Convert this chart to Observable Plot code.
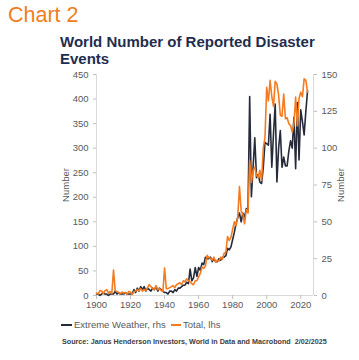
<!DOCTYPE html>
<html>
<head>
<meta charset="utf-8">
<script src="https://cdn.jsdelivr.net/npm/d3@7"></script>
<script src="https://cdn.jsdelivr.net/npm/@observablehq/plot@0.6"></script>
<style>
  html, body { margin: 0; padding: 0; background: #fff; }
  body { width: 359px; height: 360px; position: relative; overflow: hidden; font-family: "Liberation Sans", Arial, sans-serif; }
  .abs { position: absolute; white-space: nowrap; }
  #chartno { left: 8px; top: 4.5px; font-size: 21.5px; line-height: 1; color: #f07d22; }
  #title { left: 60px; top: 32.7px; font-size: 15px; line-height: 17.6px; font-weight: bold; color: #1f2d4e; }
  #plot { left: 0; top: 70px; }
  .lg-sw { position: absolute; height: 2px; top: 324px; }
  .lg-tx { position: absolute; top: 319px; font-size: 9.5px; line-height: 12px; color: #595959; white-space: nowrap; }
  #source { left: 62px; top: 336.5px; font-size: 7.2px; line-height: 9px; font-weight: bold; color: #404040; }
</style>
</head>
<body>
<div id="chartno" class="abs">Chart 2</div>
<div id="title" class="abs">World Number of Reported Disaster<br>Events</div>
<div id="plot" class="abs"></div>
<div id="legend"></div>
<div id="source" class="abs">Source: Janus Henderson Investors, World in Data and Macrobond&nbsp; 2/02/2025</div>
<script>
// Years 1900-2024
const years = d3.range(1900, 2025);

// Total reported disasters (left-hand scale)
const total = [
  5, 3, 10, 9, 4, 10, 12, 5, 8, 4,            // 1900-1909
  52, 10, 8, 6, 4, 7, 5, 6, 3, 8,             // 1910-1919
  7, 2, 8, 9, 12, 10, 14, 9, 12, 10,          // 1920-1929
  16, 22, 18, 14, 12, 20, 12, 14, 10, 8,      // 1930-1939
  56, 14, 14, 16, 18, 20, 16, 22, 24, 26,     // 1940-1949
  22, 30, 28, 34, 30, 28, 24, 22, 30, 30,     // 1950-1959
  38, 45, 58, 55, 60, 82, 77, 76, 72, 78,     // 1960-1969
  68, 72, 70, 78, 74, 86, 88, 120, 112, 119,  // 1970-1979
  135, 150, 142, 160, 222, 172, 165, 146, 175, 168, // 1980-1989
  275, 230, 255, 261, 245, 240, 255, 234, 300, 322, // 1990-1999
  424, 396, 438, 405, 385, 436, 431, 408, 367, 365, // 2000-2009
  410, 360, 362, 350, 346, 333, 349, 404, 345, 401, // 2010-2019
  414, 405, 441, 438, 414                     // 2020-2024
];

// Extreme weather events (right-hand scale)
const extremeWeather = [
  1, 1, 0, 1, 2, 1, 1, 0, 1, 1,               // 1900-1909
  1, 3, 1, 2, 1, 1, 1, 2, 1, 1,               // 1910-1919
  1, 1, 4, 2, 5, 3, 6, 4, 6, 3,               // 1920-1929
  5, 4, 3, 5, 4, 6, 3, 5, 4, 3,               // 1930-1939
  2, 2, 1, 3, 3, 2, 4, 3, 5, 5,               // 1940-1949
  6, 7, 7, 9, 8, 18, 10, 12, 19, 13,          // 1950-1959
  19, 17, 22, 21, 26, 25, 25, 26, 23, 25,     // 1960-1969
  23, 23, 25, 24, 26, 26, 27, 32, 31, 33,     // 1970-1979
  38, 43, 49, 53, 56, 50, 56, 53, 59, 57,     // 1980-1989
  135, 67, 87, 107, 80, 82, 77, 76, 87, 104,  // 1990-1999
  103, 102, 123, 87, 110, 130, 77, 100, 112, 87, // 2000-2009
  94, 88, 88, 98, 105, 100, 121, 86, 131, 92, // 2010-2019
  126, 118, 109, 125, 139                     // 2020-2024
];

const leftTicks = d3.range(0, 451, 50);
const rightTicks = d3.range(0, 151, 25);
const seriesNames = ["Extreme Weather, rhs", "Total, lhs"];
const seriesColors = ["#262b3b", "#f47b20"];

const rows = [];
years.forEach((y, i) => {
  rows.push({year: y, series: seriesNames[0], value: extremeWeather[i] * 3});
  rows.push({year: y, series: seriesNames[1], value: total[i]});
});

const axisColor = "#595959";
const chart = Plot.plot({
  width: 359,
  height: 245,
  marginLeft: 96,
  marginRight: 46,
  marginTop: 4,
  marginBottom: 20,
  style: {fontFamily: "'Liberation Sans', Arial, sans-serif", fontSize: "9.5px", color: axisColor, background: "transparent"},
  x: {domain: [1900, 2027.5]},
  y: {domain: [0, 450]},
  color: {domain: seriesNames, range: seriesColors},
  marks: [
    Plot.ruleX([1900], {stroke: "#d9d9d9"}),
    Plot.ruleX([2027.5], {stroke: "#d9d9d9"}),
    Plot.ruleY([0], {stroke: "#d9d9d9"}),
    Plot.axisX({ticks: d3.range(1900, 2021, 20), tickFormat: d => String(d), tickSize: 4, tickPadding: 2, stroke: "#bfbfbf", fill: axisColor, label: null}),
    Plot.axisY({anchor: "left", ticks: leftTicks, tickSize: 3, tickPadding: 5, stroke: "#bfbfbf", fill: axisColor,
      label: "Number", labelAnchor: "center", labelArrow: "none", labelOffset: 34}),
    Plot.axisY({anchor: "right", ticks: rightTicks.map(d => d * 3), tickFormat: d => String(Math.round(d / 3)), tickSize: 3, tickPadding: 5, stroke: "#bfbfbf", fill: axisColor,
      label: "Number", labelAnchor: "center", labelArrow: "none", labelOffset: 30}),
    Plot.line(rows, {x: "year", y: "value", z: "series", stroke: "series", strokeWidth: 1.6, strokeLinejoin: "round"})
  ]
});
document.getElementById("plot").appendChild(chart);

// Legend
const legend = document.getElementById("legend");
const swLeft = [61, 171], swWidth = [11, 10], txLeft = [74, 183];
seriesNames.forEach((name, i) => {
  const sw = document.createElement("div");
  sw.className = "lg-sw";
  sw.style.left = swLeft[i] + "px";
  sw.style.width = swWidth[i] + "px";
  sw.style.background = seriesColors[i];
  legend.appendChild(sw);
  const tx = document.createElement("div");
  tx.className = "lg-tx";
  tx.style.left = txLeft[i] + "px";
  tx.textContent = name;
  legend.appendChild(tx);
});
</script>
</body>
</html>
